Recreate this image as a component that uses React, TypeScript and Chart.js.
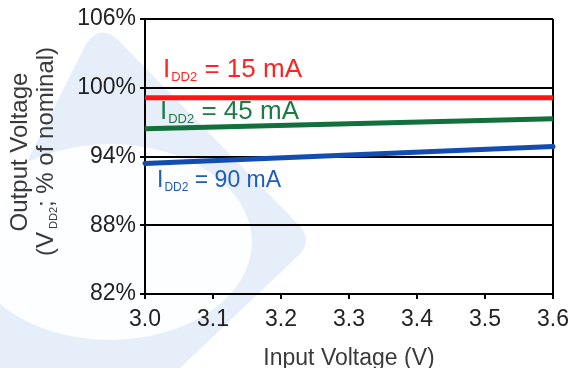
import React, { useEffect, useRef } from "react";
import { Chart, registerables } from "chart.js";

Chart.register(...registerables);

// ---- data ----
const inputVoltage = [3.0, 3.6];
const vdd2_15mA = [99.13, 99.13];
const vdd2_45mA = [96.42, 97.29];
const vdd2_90mA = [93.39, 94.87];
const seriesCurrents = ["15 mA", "45 mA", "90 mA"];
const yTicks = [82, 88, 94, 100, 106];
const xTickLabels = ["3.0", "3.1", "3.2", "3.3", "3.4", "3.5", "3.6"];

const FONT = '"Liberation Sans", Arial, Helvetica, sans-serif';

const lineColors = ["#ff1414", "#11703c", "#134db0"];
const textColors = ["#ff2424", "#1f7a46", "#1f5cc0"];

const toPts = (ys: number[]) => ys.map((y, i) => ({ x: inputVoltage[i], y }));

const watermark = {
  id: "watermark",
  beforeDraw(chart: any) {
    const ctx = chart.ctx;
    ctx.save();
    ctx.fillStyle = "#ffffff";
    ctx.fillRect(0, 0, chart.width, chart.height);
    ctx.fillStyle = "#e6eff9";
    ctx.beginPath();
    ctx.moveTo(0, 215);
    ctx.lineTo(86, 44);
    ctx.quadraticCurveTo(100, 22, 120, 42);
    ctx.lineTo(300, 226);
    ctx.quadraticCurveTo(312, 240, 300, 254);
    ctx.lineTo(180, 368);
    ctx.lineTo(0, 368);
    ctx.closePath();
    ctx.fill();
    ctx.fillStyle = "rgba(255,255,255,0.9)";
    ctx.beginPath();
    ctx.ellipse(110, 242, 142, 98, 0, 0, Math.PI * 2);
    ctx.fill();
    ctx.restore();
  },
};

const annotations = {
  id: "annotations",
  afterDatasetsDraw(chart: any) {
    const ctx = chart.ctx;
    const { left, right } = chart.chartArea;
    const yS = chart.scales.y;
    ctx.save();
    // series labels
    const labelDx = [18, 15, 12];
    const labelY = [100.96, 97.29, 91.38];
    const mainSize = [26, 26, 23];
    const subSize = [13, 13, 12];
    seriesCurrents.forEach((cur, i) => {
      const x = left + labelDx[i];
      const y = yS.getPixelForValue(labelY[i]);
      ctx.fillStyle = textColors[i];
      ctx.textAlign = "left";
      ctx.textBaseline = "alphabetic";
      ctx.font = `${mainSize[i]}px ${FONT}`;
      ctx.fillText("I", x, y);
      const wI = ctx.measureText("I").width;
      ctx.font = `${subSize[i]}px ${FONT}`;
      ctx.fillText("DD2", x + wI + 1, y + 4);
      const wS = ctx.measureText("DD2").width;
      ctx.font = `${mainSize[i]}px ${FONT}`;
      ctx.fillText(" = " + cur, x + wI + 1 + wS, y);
    });

    // x title
    ctx.fillStyle = "#3a3a3a";
    ctx.font = `23px ${FONT}`;
    ctx.textAlign = "center";
    ctx.fillText("Input Voltage (V)", (left + right) / 2, 365);

    // y title, line 1
    ctx.save();
    ctx.translate(27, 152);
    ctx.rotate(-Math.PI / 2);
    ctx.textAlign = "center";
    ctx.font = `24px ${FONT}`;
    ctx.fillText("Output Voltage", 0, 0);
    ctx.restore();

    // y title, line 2
    ctx.save();
    ctx.translate(53, 256);
    ctx.rotate(-Math.PI / 2);
    ctx.textAlign = "left";
    ctx.font = `24px ${FONT}`;
    ctx.fillText("(V", 0, 0);
    let w = ctx.measureText("(V").width + 3;
    ctx.font = `11px ${FONT}`;
    ctx.fillText("DD2", w, 4);
    w += ctx.measureText("DD2").width;
    ctx.font = `24px ${FONT}`;
    ctx.fillText("; % of nominal)", w, 0);
    ctx.restore();

    ctx.restore();
  },
};

export default function App() {
  const ref = useRef<HTMLCanvasElement | null>(null);
  useEffect(() => {
    if (!ref.current) return;
    const chart = new Chart(ref.current, {
      type: "line",
      data: {
        datasets: [vdd2_15mA, vdd2_45mA, vdd2_90mA].map((ys, i) => ({
          label: "IDD2 = " + seriesCurrents[i],
          data: toPts(ys),
          borderColor: lineColors[i],
          backgroundColor: lineColors[i],
          borderWidth: 5,
          pointRadius: 0,
          borderCapStyle: i === 2 ? "round" : "butt",
          clip: 6,
        })) as any,
      },
      options: {
        responsive: false,
        animation: false,
        layout: { padding: { top: 19, right: 20, left: 0, bottom: 0 } },
        plugins: { legend: { display: false }, tooltip: { enabled: false } },
        scales: {
          x: {
            type: "linear",
            min: 3.0,
            max: 3.6,
            afterFit: (s: any) => {
              s.height = 74;
              s.paddingRight = 0;
              s.paddingLeft = 0;
            },
            afterBuildTicks: (s: any) => {
              s.ticks = xTickLabels.map((t) => ({ value: parseFloat(t) }));
            },
            ticks: {
              autoSkip: false,
              maxRotation: 0,
              padding: 7,
              color: "#222",
              font: { family: FONT, size: 23 },
              callback: (v: any) => Number(v).toFixed(1),
            },
            grid: {
              drawOnChartArea: true,
              color: (c: any) =>
                c.tick && Math.abs(c.tick.value - 3.6) < 1e-6 ? "#000" : "rgba(0,0,0,0)",
              tickColor: "#000",
              tickLength: 5,
              lineWidth: 2,
            },
            border: { display: true, color: "#000", width: 2 },
          },
          y: {
            type: "linear",
            min: 82,
            max: 106,
            afterFit: (s: any) => {
              s.width = 145;
              s.paddingTop = 0;
              s.paddingBottom = 0;
            },
            afterBuildTicks: (s: any) => {
              s.ticks = yTicks.map((v) => ({ value: v }));
            },
            ticks: {
              padding: 4,
              color: "#222",
              font: { family: FONT, size: 23 },
              callback: (v: any) => `${v}%`,
            },
            grid: {
              color: "#000",
              tickColor: "#000",
              tickLength: 5,
              lineWidth: 2,
            },
            border: { display: true, color: "#000", width: 2 },
          },
        },
      },
      plugins: [watermark, annotations],
    });
    return () => chart.destroy();
  }, []);
  return (
    <div style={{ position: "absolute", left: 0, top: 0, width: 573, height: 368 }}>
      <canvas ref={ref} width={573} height={368} style={{ display: "block" }} />
    </div>
  );
}
